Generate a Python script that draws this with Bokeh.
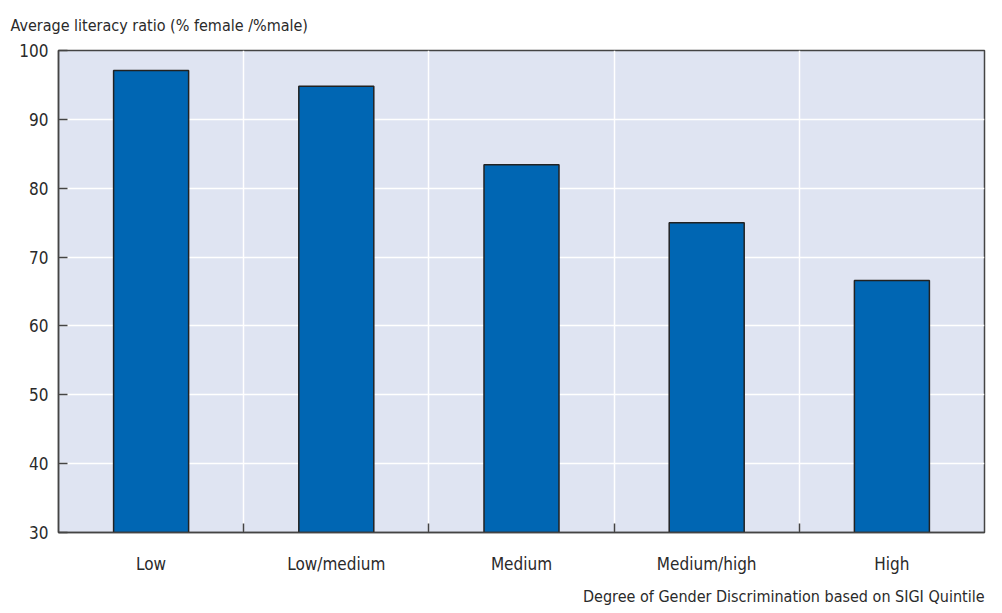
from bokeh.plotting import figure
from bokeh.models import FixedTicker, Range1d, Title
from bokeh.embed import file_html
from bokeh.resources import INLINE
import numpy as np

categories = ["Low", "Low/medium", "Medium", "Medium/high", "High"]
values = [97.1, 94.8, 83.4, 75.0, 66.6]
y_ticks = [30, 40, 50, 60, 70, 80, 90, 100]

FONT = "'DejaVu Sans Condensed', 'Roboto', sans-serif"
TXT = "#2a2a2a"

xs = np.arange(len(categories)) + 0.5

p = figure(width=986, height=613, output_backend="svg", toolbar_location=None,
           x_range=Range1d(0, len(categories)), y_range=Range1d(30, 100),
           min_border_left=58, min_border_right=2, min_border_top=50, min_border_bottom=20)

p.background_fill_color = "#dfe4f2"
p.border_fill_color = "white"
p.outline_line_color = "#444444"
p.outline_line_width = 1.5

p.vbar(x=xs, top=values, bottom=30, width=0.405, fill_color="#0066b3",
       line_color="#222222", line_width=1.5)

# x axis
p.xaxis.ticker = FixedTicker(ticks=list(xs), minor_ticks=list(np.arange(1, len(categories))))
p.xaxis.major_label_overrides = {float(x): c for x, c in zip(xs, categories)}
p.xaxis.major_tick_in = 0
p.xaxis.major_tick_out = 0
p.xaxis.minor_tick_in = 9
p.xaxis.minor_tick_out = 0
p.xaxis.minor_tick_line_color = "#444444"
p.xaxis.minor_tick_line_width = 1.5
p.xaxis.axis_line_color = "#444444"
p.xaxis.axis_line_width = 1.5
p.xaxis.major_label_standoff = 21
p.xaxis.major_label_text_font = FONT
p.xaxis.major_label_text_font_size = "17px"
p.xaxis.major_label_text_color = TXT

p.xgrid.ticker = FixedTicker(ticks=list(np.arange(1, len(categories))))
p.xgrid.grid_line_color = "white"
p.xgrid.grid_line_width = 1.5

# y axis
p.yaxis.ticker = FixedTicker(ticks=y_ticks)
p.yaxis.major_tick_in = 9
p.yaxis.major_tick_out = 0
p.yaxis.major_tick_line_color = "#444444"
p.yaxis.major_tick_line_width = 1.5
p.yaxis.minor_tick_line_color = None
p.yaxis.axis_line_color = "#444444"
p.yaxis.axis_line_width = 1.5
p.yaxis.major_label_standoff = 10
p.yaxis.major_label_text_font = FONT
p.yaxis.major_label_text_font_size = "17px"
p.yaxis.major_label_text_color = TXT
p.ygrid.grid_line_color = "white"
p.ygrid.grid_line_width = 1.5

t = Title(text="Average literacy ratio (% female /%male)", align="left", offset=-48,
          standoff=28, vertical_align="top", text_font=FONT, text_font_size="16px",
          text_font_style="normal", text_color=TXT)
p.add_layout(t, "above")

b = Title(text="Degree of Gender Discrimination based on SIGI Quintile", align="right",
          standoff=16, text_font=FONT, text_font_size="16px", text_font_style="normal",
          text_color=TXT)
p.add_layout(b, "below")

open("out.html", "w").write(file_html(p, INLINE))
